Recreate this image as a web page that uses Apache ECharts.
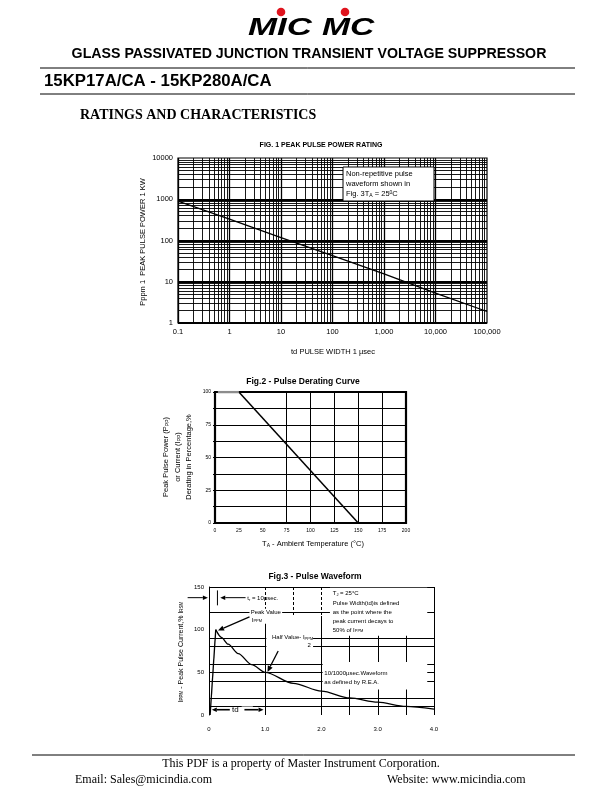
<!DOCTYPE html>
<html><head><meta charset="utf-8">
<script src="https://cdn.jsdelivr.net/npm/echarts@6/dist/echarts.min.js"></script>
<style>html,body{margin:0;padding:0;background:#fff}#c{width:612px;height:792px}</style>
</head><body><div id="c"></div>
<script>
// ---------- Fig.1 Peak pulse power rating ----------
const fig1PulseWidth = [0.1, 1, 10, 100, 1000, 10000, 100000];
const fig1PeakPower = [900, 330, 118, 43, 15.5, 5.3, 1.9];
const fig1XTickLabels = ['0.1', '1', '10', '100', '1,000', '10,000', '100,000'];
const fig1YTickLabels = ['1', '10', '100', '1000', '10000'];
// ---------- Fig.2 Pulse derating curve ----------
const fig2FlatTemp = [3, 25];
const fig2FlatValue = [100, 100];
const fig2Temp = [25, 150];
const fig2Derating = [100, 0];
const fig2YTickLabels = ['0', '25', '50', '75', '100'];
// ---------- Fig.3 Pulse waveform ----------
const fig3RiseTime = [0.02, 0.12];
const fig3RiseCurrent = [0, 100];
const fig3DecayTime = [0.12, 0.22, 0.34, 0.52, 0.76, 1.0, 1.5, 2.0, 2.5, 3.0, 3.5, 4.0];
const fig3DecayCurrent = [100, 91, 83, 72, 59, 50, 37, 28, 20, 15, 10, 7];
const fig3XTickLabels = ['0', '1.0', '2.0', '3.0', '4.0'];
const fig3YTickLabels = ['0', '50', '100', '150'];

const F = '"Liberation Sans", Arial, sans-serif';
const SERIF = '"Liberation Serif", "Times New Roman", serif';
const chart = echarts.init(document.getElementById('c'));

function pairs(xs, ys) { return xs.map((x, i) => [x, ys[i]]); }

// log grid lines for fig 1
const f1vx = [], f1hy = [];
for (let e = -1; e <= 4; e++) for (let m = 1; m <= 9; m++) f1vx.push({ xAxis: m * Math.pow(10, e), lineStyle: { width: m === 1 ? 1.3 : 0.9 } });
for (let e = 0; e <= 3; e++) for (let m = 1; m <= 9; m++) f1hy.push({ yAxis: m * Math.pow(10, e), lineStyle: { width: m === 1 ? 2 : 0.9 } });

const gridLineBase = { silent: true, symbol: ['none', 'none'], label: { show: false }, emphasis: { disabled: true }, animation: false, lineStyle: { color: '#000', type: 'solid', width: 1 } };

const f3h = [10, 20, 40, 50, 60, 80, 90, 120].map(v => ({ yAxis: v }));
const seg = (x1, y1, x2, y2, dashed) => [{ coord: [x1, y1], lineStyle: dashed ? { type: [3, 2] } : {} }, { coord: [x2, y2] }];
const f3v = [
  seg(1.0, 150, 1.0, 116, true), seg(1.0, 116, 1.0, 0),
  seg(1.5, 150, 1.5, 116, true),
  seg(2.0, 150, 2.0, 116, true), seg(2.0, 116, 2.0, 0),
  seg(2.5, 100, 2.5, 0),
  seg(3.0, 150, 3.0, 0), seg(3.5, 150, 3.5, 0),
  seg(0, 150, 4, 150), seg(4, 150, 4, 0)
];

const axisTxt = (size) => ({ color: '#000', fontSize: size, fontFamily: F });

const option = {
  animation: false,
  backgroundColor: '#fff',
  grid: [
    { left: 178, top: 158, width: 309, height: 165, show: true, borderColor: '#000', borderWidth: 1.2 },
    { left: 215, top: 392, width: 191, height: 131, show: true, borderColor: '#000', borderWidth: 2.2 },
    { left: 209, top: 587, width: 225, height: 128, show: false }
  ],
  xAxis: [
    { gridIndex: 0, type: 'log', logBase: 10, min: 0.1, max: 100000, splitNumber: 6,
      axisLine: { show: false }, axisTick: { show: false }, splitLine: { show: false },
      axisLabel: Object.assign(axisTxt(7.5), { margin: 5, formatter: v => fig1XTickLabels[Math.round(Math.log10(v)) + 1] }) },
    { gridIndex: 1, type: 'value', min: 0, max: 200, interval: 25,
      axisLine: { show: false }, axisTick: { show: false }, splitLine: { show: false },
      axisLabel: Object.assign(axisTxt(5), { margin: 5 }) },
    { gridIndex: 2, type: 'value', min: 0, max: 4, interval: 1,
      axisLine: { show: false }, axisTick: { show: false }, splitLine: { show: false },
      axisLabel: Object.assign(axisTxt(6), { margin: 11, formatter: v => fig3XTickLabels[Math.round(v)] }) }
  ],
  yAxis: [
    { gridIndex: 0, type: 'log', logBase: 10, min: 1, max: 10000, splitNumber: 4,
      axisLine: { show: false }, axisTick: { show: false }, splitLine: { show: false },
      axisLabel: Object.assign(axisTxt(7.5), { margin: 5, formatter: v => fig1YTickLabels[Math.round(Math.log10(v))] }) },
    { gridIndex: 1, type: 'value', min: 0, max: 100, interval: 12.5,
      axisLine: { show: false }, axisTick: { show: true, length: 2, lineStyle: { color: '#000' } },
      splitLine: { show: true, lineStyle: { color: '#000', width: 1 } },
      axisLabel: Object.assign(axisTxt(5), { margin: 4, formatter: v => (v % 25 === 0 ? fig2YTickLabels[v / 25] : '') }) },
    { gridIndex: 2, type: 'value', min: 0, max: 150, interval: 50,
      axisLine: { show: true, lineStyle: { color: '#000', width: 1 } }, axisTick: { show: false }, splitLine: { show: false },
      axisLabel: Object.assign(axisTxt(6), { margin: 5, formatter: v => fig3YTickLabels[Math.round(v / 50)] }) }
  ],
  series: [
    { type: 'line', xAxisIndex: 0, yAxisIndex: 0, z: 1, data: pairs(fig1PulseWidth, fig1PeakPower), showSymbol: false, lineStyle: { opacity: 0 },
      markLine: Object.assign({}, gridLineBase, { data: f1vx.concat(f1hy) }) },
    { type: 'line', xAxisIndex: 0, yAxisIndex: 0, z: 5, data: pairs(fig1PulseWidth, fig1PeakPower), showSymbol: false, lineStyle: { color: '#000', width: 1.3 } },
    { type: 'line', xAxisIndex: 1, yAxisIndex: 1, z: 1, data: pairs(fig2Temp, fig2Derating), showSymbol: false, lineStyle: { opacity: 0 },
      markLine: Object.assign({}, gridLineBase, { data: [75, 100, 125, 150, 175].map(v => ({ xAxis: v })) }) },
    { type: 'line', xAxisIndex: 1, yAxisIndex: 1, z: 6, data: pairs(fig2FlatTemp, fig2FlatValue), showSymbol: false, lineStyle: { color: '#8c8c8c', width: 2.4 } },
    { type: 'line', xAxisIndex: 1, yAxisIndex: 1, z: 5, data: pairs(fig2Temp, fig2Derating), showSymbol: false, lineStyle: { color: '#000', width: 1.5 } },
    { type: 'line', xAxisIndex: 2, yAxisIndex: 2, z: 1, data: pairs(fig3DecayTime, fig3DecayCurrent), showSymbol: false, lineStyle: { opacity: 0 },
      markLine: Object.assign({}, gridLineBase, { data: f3h.concat(f3v) }) },
    { type: 'line', xAxisIndex: 2, yAxisIndex: 2, z: 5, data: pairs(fig3RiseTime, fig3RiseCurrent), showSymbol: false, lineStyle: { color: '#000', width: 1.3 } },
    { type: 'line', xAxisIndex: 2, yAxisIndex: 2, z: 5, data: pairs(fig3DecayTime, fig3DecayCurrent), showSymbol: false, smooth: 0.3, smoothMonotone: 'x', lineStyle: { color: '#000', width: 1.3 } }
  ]
};
chart.setOption(option);

// ---------- graphics ----------
function txt(x, y, text, size, o) {
  o = o || {};
  const el = { type: 'text', x: x, y: y, z: 120, silent: true, rotation: o.rotation || 0, scaleX: o.scaleX || 1,
    style: { text: text, x: 0, y: 0, fontSize: size, fontFamily: o.family || F, fontWeight: o.weight || 'normal', fontStyle: o.fstyle || 'normal',
      fill: o.fill || '#000', align: o.align || 'left', textAlign: o.align || 'left', verticalAlign: 'middle', textVerticalAlign: 'middle' } };
  if (o.rich) el.style.rich = o.rich;
  return el;
}
function hline(x1, x2, y, w) { return { type: 'line', z: 120, silent: true, shape: { x1: x1, y1: y, x2: x2, y2: y }, style: { stroke: '#000', lineWidth: w || 1 } }; }
function rect(x, y, w, h, stroke) { return { type: 'rect', z: 110, silent: true, shape: { x: x, y: y, width: w, height: h }, style: { fill: '#fff', stroke: stroke ? '#000' : null, lineWidth: stroke ? 1 : 0 } }; }
function arrow(p1, p2, head, w) {
  head = head || 5; w = w || 1;
  const dx = p2[0] - p1[0], dy = p2[1] - p1[1], L = Math.hypot(dx, dy), ux = dx / L, uy = dy / L;
  const bx = p2[0] - ux * head, by = p2[1] - uy * head, px = -uy * head * 0.45, py = ux * head * 0.45;
  return [
    { type: 'line', z: 130, silent: true, shape: { x1: p1[0], y1: p1[1], x2: bx, y2: by }, style: { stroke: '#000', lineWidth: w } },
    { type: 'polygon', z: 130, silent: true, shape: { points: [[p2[0], p2[1]], [bx + px, by + py], [bx - px, by - py]] }, style: { fill: '#000' } }
  ];
}
const P3 = (x, y) => chart.convertToPixel({ xAxisIndex: 2, yAxisIndex: 2 }, [x, y]);

const g = [];
// header: logo
g.push(txt(248, 28, 'MIC', 24, { weight: 'bold', fstyle: 'italic', scaleX: 1.45 }));
g.push(txt(322, 28, 'MC', 24, { weight: 'bold', fstyle: 'italic', scaleX: 1.4 }));
g.push({ type: 'circle', z: 125, silent: true, shape: { cx: 281, cy: 12, r: 4.3 }, style: { fill: '#e0141e' } });
g.push({ type: 'circle', z: 125, silent: true, shape: { cx: 345, cy: 12, r: 4.3 }, style: { fill: '#e0141e' } });
g.push(txt(309, 54, 'GLASS PASSIVATED JUNCTION TRANSIENT VOLTAGE SUPPRESSOR', 14.2, { weight: 'bold', align: 'center' }));
g.push(hline(40, 575, 68, 1));
g.push(txt(44, 81, '15KP17A/CA - 15KP280A/CA', 16.8, { weight: 'bold' }));
g.push(hline(40, 575, 94, 1));
g.push(txt(80, 115, 'RATINGS AND CHARACTERISTICS', 14, { weight: 'bold', family: SERIF }));
// footer
g.push(hline(32, 575, 755, 1));
g.push(txt(301, 764, 'This PDF is a property of Master Instrument Corporation.', 12, { family: SERIF, align: 'center' }));
g.push(txt(75, 780, 'Email: Sales@micindia.com', 12, { family: SERIF }));
g.push(txt(387, 780, 'Website: www.micindia.com', 12, { family: SERIF }));

// fig 1 texts
g.push(txt(321, 145, 'FIG. 1 PEAK PULSE POWER RATING', 7, { weight: 'bold', align: 'center' }));
g.push(txt(143, 242, 'Pppm 1  PEAK PULSE POWER 1 KW', 7.5, { align: 'center', rotation: Math.PI / 2 }));
g.push(txt(333, 352, 'td PULSE WIDTH 1 \u00b5sec', 7.5, { align: 'center' }));
g.push(rect(343, 167, 91, 34, true));
g.push(txt(346, 174, 'Non-repetitive pulse', 7.5));
g.push(txt(346, 184, 'waveform shown in', 7.5));
g.push(txt(346, 194, '{a|Fig. 3T}{s|A}{a| = 25}{p|0}{a|C}', 7.5, { rich: {
  a: { fontSize: 7.5, fontFamily: F }, s: { fontSize: 5, fontFamily: F, verticalAlign: 'bottom' }, p: { fontSize: 5, fontFamily: F, verticalAlign: 'top' } } }));

// fig 2 texts
g.push(txt(303, 382, 'Fig.2 - Pulse Derating Curve', 8.5, { weight: 'bold', align: 'center' }));
const r2 = { a: { fontSize: 7.5, fontFamily: F, fill: '#000' }, s: { fontSize: 5, fontFamily: F, fill: '#000', verticalAlign: 'bottom' } };
g.push(txt(166, 457, '{a|Peak Pulse Power (P}{s|PP}{a|)}', 7.5, { align: 'center', rotation: Math.PI / 2, rich: r2 }));
g.push(txt(178, 457, '{a|or Current (I}{s|PP}{a|)}', 7.5, { align: 'center', rotation: Math.PI / 2, rich: r2 }));
g.push(txt(189, 457, '{a|Derating in Percentage,%}', 7.5, { align: 'center', rotation: Math.PI / 2, rich: r2 }));
g.push(txt(313, 544, '{a|T}{s|A}{a| - Ambient Temperature (\u00b0C)}', 7.5, { align: 'center', rich: r2 }));

// fig 3 texts
g.push(txt(315, 577, 'Fig.3 - Pulse Waveform', 8.5, { weight: 'bold', align: 'center' }));
const r3 = { a: { fontSize: 7, fontFamily: F, fill: '#000' }, s: { fontSize: 4.5, fontFamily: F, fill: '#000', verticalAlign: 'bottom' } };
g.push(txt(181, 652, '{a|I}{s|PPM}{a| - Peak Pulse Current,% I}{s|RSM}', 7, { align: 'center', rotation: Math.PI / 2, rich: r3 }));

const r6 = { a: { fontSize: 6, fontFamily: F, fill: '#000' }, s: { fontSize: 4, fontFamily: F, fill: '#000', verticalAlign: 'bottom' } };
function boxData(x1, y1, x2, y2) { const a = P3(x1, y1), b = P3(x2, y2); return rect(a[0], a[1], b[0] - a[0], b[1] - a[1], false); }
g.push(boxData(2.15, 149, 3.88, 93));
g.push(boxData(2.02, 62, 3.88, 30));
g.push(boxData(0.72, 124.5, 1.3, 107));
g.push(boxData(1.02, 92.5, 1.85, 78));
g.push(boxData(0.42, 140, 0.62, 133));
g.push(boxData(0.58, 10, 0.78, 2.5));

let p;
p = P3(2.2, 142); g.push(txt(p[0], p[1], '{a|T}{s|J}{a| = 25\u00b0C}', 6, { rich: r6 }));
p = P3(2.2, 131); g.push(txt(p[0], p[1], 'Pulse Width(td)is defined', 6));
p = P3(2.2, 120.5); g.push(txt(p[0], p[1], 'as the point where the', 6));
p = P3(2.2, 110); g.push(txt(p[0], p[1], 'peak current decays to', 6));
p = P3(2.2, 99.5); g.push(txt(p[0], p[1], '{a|50% of I}{s|PPM}', 6, { rich: r6 }));
p = P3(2.05, 48.5); g.push(txt(p[0], p[1], '10/1000\u00b5sec.Waveform', 6));
p = P3(2.05, 38); g.push(txt(p[0], p[1], 'as defined by R.E.A.', 6));
p = P3(0.74, 120.5); g.push(txt(p[0], p[1], 'Peak Value', 6));
p = P3(0.76, 111); g.push(txt(p[0], p[1], '{a|I}{s|PPM}', 6, { rich: r6 }));
p = P3(1.12, 90.5); g.push(txt(p[0], p[1], '{a|Half Value- I}{s|PPM}', 6, { rich: r6 }));
p = P3(1.75, 82); g.push(txt(p[0], p[1], '2', 6));
p = P3(0.68, 136.5); g.push(txt(p[0], p[1], '{a|t}{s|r}{a| = 10\u00b5sec.}', 6, { rich: r6 }));
p = P3(0.47, 6.5); g.push(txt(p[0], p[1], 'td', 8, { align: 'center' }));
let a1 = P3(-0.38, 137.5), a2 = P3(-0.02, 137.5);
g.push.apply(g, arrow(a1, a2, 5, 1));
a1 = P3(0.65, 137.5); a2 = P3(0.2, 137.5);
g.push.apply(g, arrow(a1, a2, 5, 1));
a1 = P3(0.15, 146); a2 = P3(0.15, 128.5);
g.push({ type: 'line', z: 130, silent: true, shape: { x1: a1[0], y1: a1[1], x2: a2[0], y2: a2[1] }, style: { stroke: '#000', lineWidth: 1 } });
g.push.apply(g, arrow(P3(0.72, 115), P3(0.16, 99), 6, 1.2));
g.push.apply(g, arrow(P3(1.23, 75), P3(1.04, 50.5), 6, 1.3));
g.push.apply(g, arrow(P3(0.37, 6.2), P3(0.05, 6.2), 5, 1.6));
g.push.apply(g, arrow(P3(0.63, 6.2), P3(0.97, 6.2), 5, 1.6));

chart.setOption({ graphic: { elements: g } });
</script>
</body></html>
